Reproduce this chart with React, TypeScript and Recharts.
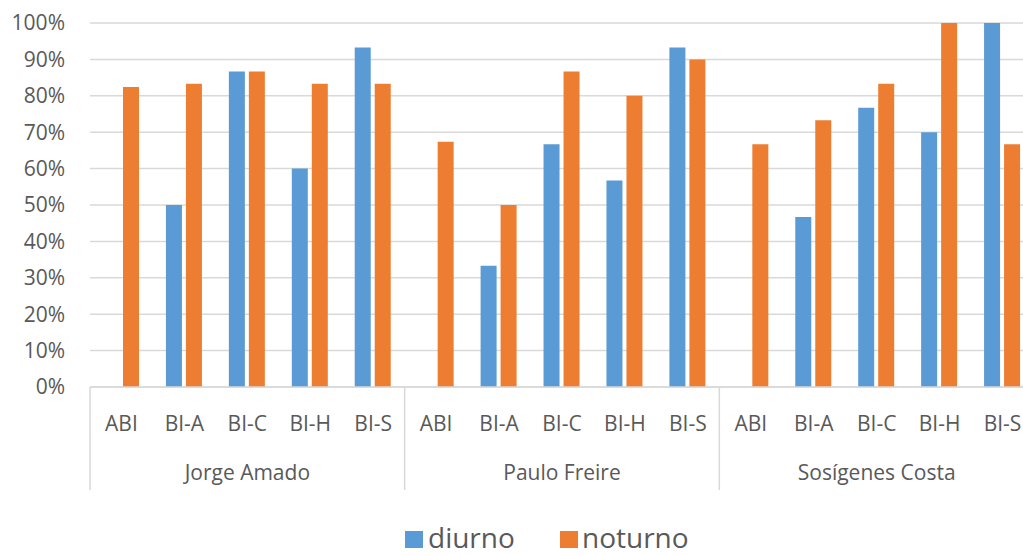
import { BarChart, Bar, XAxis, YAxis, CartesianGrid } from 'recharts'

// cursos per campus, in display order
const cursos = ['ABI', 'BI-A', 'BI-C', 'BI-H', 'BI-S']
const campi = ['Jorge Amado', 'Paulo Freire', 'Sosígenes Costa']

// share of each course, day and night shifts (ABI has no day shift)
const diurno = [null, 0.5, 0.867, 0.6, 0.933, null, 0.333, 0.667, 0.567, 0.933, null, 0.467, 0.767, 0.7, 1.0]
const noturno = [0.824, 0.833, 0.867, 0.833, 0.833, 0.674, 0.5, 0.867, 0.8, 0.9, 0.667, 0.733, 0.833, 1.0, 0.667]

const yTicks = [0, 0.1, 0.2, 0.3, 0.4, 0.5, 0.6, 0.7, 0.8, 0.9, 1]

const data = campi.flatMap((campus, c) =>
  cursos.map((curso, k) => ({
    curso,
    campus,
    diurno: diurno[c * cursos.length + k],
    noturno: noturno[c * cursos.length + k],
  }))
)

const FONT = '"Open Sans", sans-serif'
const TEXT = '#595959'
const GRID = '#d9d9d9'
const BLUE = '#5b9bd5'
const ORANGE = '#ed7d31'

const Y_AXIS_W = 90
const PLOT_W = 944
const BAND = PLOT_W / data.length

// two-level category axis: course label, then campus name with separators
const CategoryTick = (props: any) => {
  const { x, y, payload, index } = props
  const pos = index % cursos.length
  return (
    <g>
      <text x={x} y={y + 36} textAnchor="middle" dominantBaseline="central" fill={TEXT} fontFamily={FONT} fontSize={21}>
        {payload.value}
      </text>
      {pos === 0 && <line x1={x - BAND / 2} x2={x - BAND / 2} y1={y} y2={y + 103} stroke={GRID} strokeWidth={1.5} />}
      {pos === 2 && (
        <text x={x} y={y + 85} textAnchor="middle" dominantBaseline="central" fill={TEXT} fontFamily={FONT} fontSize={21}>
          {data[index].campus}
        </text>
      )}
    </g>
  )
}

export default function App() {
  return (
    <div style={{ position: 'absolute', left: 0, top: 0, width: 1023, height: 556, overflow: 'hidden', background: '#fff' }}>
      <BarChart
        width={Y_AXIS_W + PLOT_W}
        height={556}
        data={data}
        margin={{ top: 23, right: 0, bottom: 59, left: 0 }}
        barSize={16}
        barGap={4}
      >
        <CartesianGrid vertical={false} stroke={GRID} strokeWidth={1.5} />
        <XAxis
          dataKey="curso"
          interval={0}
          height={110}
          tickSize={0}
          tickMargin={0}
          tickLine={false}
          axisLine={{ stroke: GRID, strokeWidth: 1.5 }}
          tick={<CategoryTick />}
        />
        <YAxis
          width={Y_AXIS_W}
          domain={[0, 1]}
          ticks={yTicks}
          tickFormatter={(v: number) => `${Math.round(v * 100)}%`}
          axisLine={false}
          tickLine={false}
          tickSize={0}
          tickMargin={25}
          tick={{ fill: TEXT, fontFamily: FONT, fontSize: 21 }}
        />
        <Bar dataKey="diurno" fill={BLUE} isAnimationActive={false} />
        <Bar dataKey="noturno" fill={ORANGE} isAnimationActive={false} />
      </BarChart>
      {/* legend along the bottom edge */}
      <svg width={1023} height={556} style={{ position: 'absolute', left: 0, top: 0, pointerEvents: 'none' }}>
        <rect x={405} y={531} width={18} height={17} fill={BLUE} />
        <text x={428} y={548} fill={TEXT} fontFamily={FONT} fontSize={28}>diurno</text>
        <rect x={560} y={531} width={18} height={17} fill={ORANGE} />
        <text x={582} y={548} fill={TEXT} fontFamily={FONT} fontSize={28}>noturno</text>
      </svg>
    </div>
  )
}
